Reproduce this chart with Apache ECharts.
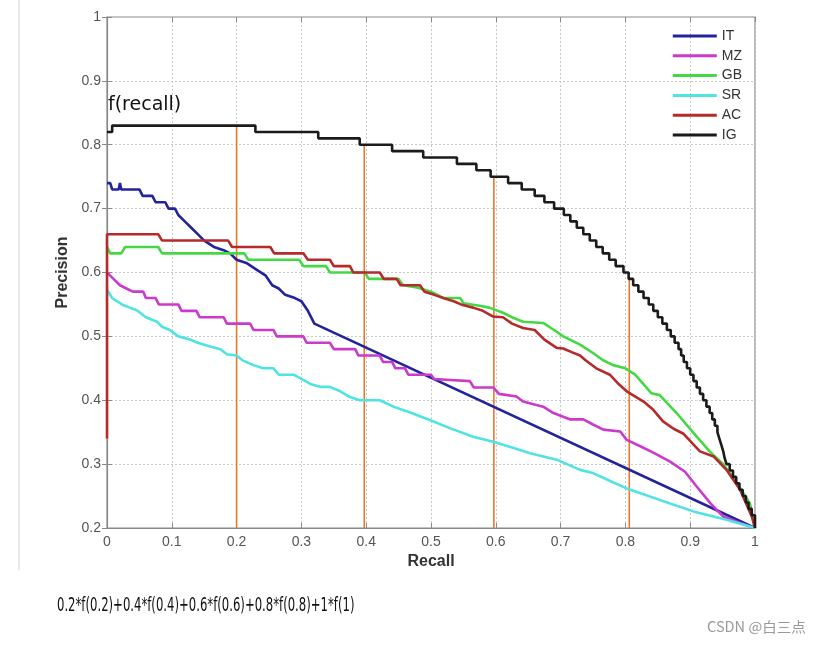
<!DOCTYPE html>
<html><head><meta charset="utf-8">
<script src="https://cdn.jsdelivr.net/npm/echarts@6/dist/echarts.min.js"></script>
<style>html,body{margin:0;padding:0;background:#fff}#c{width:823px;height:645px}</style>
</head><body><div id="c"></div>
<script>
const seriesNames = ['IT','MZ','GB','SR','AC','IG'];
const seriesColors = ['#23239c','#cc3acc','#45d845','#4fe3e3','#b52a2a','#1b1b1b'];

const IT = [[0,0.74],[0.005,0.74],[0.008,0.73],[0.018,0.73],[0.02,0.74],[0.022,0.73],[0.05,0.73],[0.055,0.72],[0.07,0.72],[0.075,0.71],[0.09,0.71],[0.095,0.70],[0.105,0.70],[0.11,0.69],[0.12,0.68],[0.13,0.67],[0.14,0.66],[0.15,0.65],[0.165,0.64],[0.18,0.635],[0.19,0.63],[0.2,0.62],[0.215,0.615],[0.23,0.605],[0.245,0.595],[0.255,0.58],[0.265,0.575],[0.275,0.565],[0.29,0.56],[0.3,0.555],[0.31,0.54],[0.32,0.52],[1,0.2]];
const MZ = [[0,0.60],[0.005,0.595],[0.01,0.59],[0.02,0.58],[0.03,0.575],[0.04,0.57],[0.056,0.57],[0.06,0.56],[0.075,0.56],[0.08,0.55],[0.11,0.55],[0.115,0.54],[0.138,0.54],[0.143,0.53],[0.18,0.53],[0.185,0.52],[0.221,0.52],[0.226,0.51],[0.257,0.51],[0.262,0.50],[0.303,0.50],[0.308,0.49],[0.344,0.49],[0.35,0.48],[0.383,0.48],[0.388,0.47],[0.421,0.47],[0.426,0.46],[0.44,0.46],[0.445,0.45],[0.46,0.45],[0.465,0.44],[0.50,0.44],[0.505,0.433],[0.524,0.432],[0.56,0.43],[0.566,0.42],[0.596,0.42],[0.605,0.41],[0.632,0.406],[0.642,0.398],[0.673,0.39],[0.689,0.38],[0.715,0.37],[0.735,0.37],[0.75,0.362],[0.766,0.354],[0.792,0.351],[0.802,0.338],[0.823,0.328],[0.843,0.318],[0.869,0.304],[0.892,0.288],[0.91,0.265],[0.931,0.239],[0.951,0.218],[0.977,0.208],[1,0.2]];
const GB = [[0,0.64],[0.005,0.63],[0.022,0.63],[0.028,0.64],[0.079,0.64],[0.085,0.63],[0.212,0.63],[0.218,0.62],[0.297,0.62],[0.303,0.61],[0.338,0.61],[0.344,0.60],[0.398,0.60],[0.404,0.59],[0.45,0.59],[0.457,0.58],[0.48,0.576],[0.5,0.57],[0.52,0.56],[0.545,0.56],[0.55,0.552],[0.575,0.548],[0.59,0.545],[0.611,0.537],[0.625,0.53],[0.642,0.523],[0.673,0.521],[0.69,0.51],[0.704,0.50],[0.73,0.487],[0.75,0.474],[0.765,0.463],[0.781,0.455],[0.80,0.45],[0.815,0.44],[0.84,0.411],[0.853,0.408],[0.879,0.38],[0.91,0.343],[0.93,0.32],[0.951,0.30],[0.972,0.27],[0.992,0.239],[1,0.2]];
const SR = [[0,0.573],[0.008,0.56],[0.015,0.555],[0.025,0.549],[0.035,0.545],[0.046,0.541],[0.06,0.53],[0.077,0.523],[0.085,0.515],[0.097,0.51],[0.11,0.50],[0.128,0.495],[0.14,0.49],[0.159,0.484],[0.175,0.48],[0.185,0.472],[0.2,0.47],[0.21,0.462],[0.226,0.455],[0.241,0.45],[0.257,0.45],[0.265,0.44],[0.288,0.44],[0.303,0.432],[0.315,0.425],[0.329,0.421],[0.344,0.421],[0.36,0.414],[0.375,0.405],[0.39,0.40],[0.421,0.40],[0.442,0.39],[0.47,0.38],[0.498,0.369],[0.53,0.356],[0.565,0.343],[0.596,0.335],[0.625,0.326],[0.653,0.317],[0.694,0.307],[0.73,0.291],[0.75,0.286],[0.78,0.272],[0.802,0.262],[0.853,0.244],[0.905,0.226],[0.956,0.213],[1,0.2]];
const AC = [[0,0.34],[0,0.66],[0.079,0.66],[0.085,0.65],[0.187,0.65],[0.193,0.64],[0.252,0.64],[0.258,0.63],[0.303,0.63],[0.31,0.62],[0.344,0.62],[0.35,0.61],[0.375,0.61],[0.38,0.60],[0.421,0.60],[0.427,0.59],[0.447,0.59],[0.453,0.58],[0.483,0.58],[0.49,0.57],[0.505,0.565],[0.519,0.56],[0.535,0.555],[0.549,0.549],[0.565,0.545],[0.58,0.54],[0.596,0.531],[0.611,0.53],[0.625,0.52],[0.642,0.513],[0.66,0.51],[0.675,0.495],[0.694,0.482],[0.704,0.481],[0.718,0.475],[0.73,0.47],[0.738,0.463],[0.755,0.45],[0.776,0.44],[0.79,0.425],[0.802,0.414],[0.828,0.398],[0.843,0.385],[0.858,0.367],[0.875,0.355],[0.889,0.348],[0.915,0.32],[0.936,0.312],[0.956,0.291],[0.977,0.26],[0.995,0.218],[1,0.2]];
const IG = [[0,0.82],[0.008,0.83],[0.229,0.82],[0.326,0.81],[0.39,0.80],[0.44,0.79],[0.488,0.78],[0.54,0.77],[0.57,0.76],[0.592,0.75],[0.619,0.74],[0.64,0.73],[0.66,0.72],[0.675,0.71],[0.69,0.70],[0.705,0.69],[0.715,0.68],[0.725,0.67],[0.735,0.66],[0.745,0.65],[0.755,0.64],[0.765,0.63],[0.775,0.62],[0.785,0.61],[0.797,0.60],[0.805,0.59],[0.812,0.58],[0.82,0.57],[0.828,0.56],[0.836,0.55],[0.843,0.54],[0.85,0.53],[0.857,0.52],[0.864,0.51],[0.87,0.50],[0.876,0.49],[0.882,0.48],[0.886,0.47],[0.89,0.46],[0.895,0.45],[0.9,0.44],[0.905,0.43],[0.91,0.42],[0.915,0.41],[0.92,0.40],[0.925,0.39],[0.93,0.38],[0.934,0.37],[0.938,0.36],[0.942,0.35],[0.945,0.34],[0.948,0.33],[0.951,0.32],[0.953,0.31],[0.956,0.30],[0.961,0.29],[0.966,0.28],[0.971,0.27],[0.976,0.26],[0.981,0.25],[0.986,0.24],[0.99,0.23],[0.995,0.22],[1,0.2]];

const recallMarksX = [0.2, 0.397, 0.597, 0.806];
const recallMarksTop = [0.83, 0.80, 0.75, 0.593];
const annotation = 'f(recall)';
const formula = '0.2*f(0.2)+0.4*f(0.4)+0.6*f(0.6)+0.8*f(0.8)+1*f(1)';
const watermark = 'CSDN @白三点';

const allData = [IT, MZ, GB, SR, AC, IG];
const chart = echarts.init(document.getElementById('c'));
const labelFont = {color:'#555', fontSize:14, fontFamily:'Liberation Sans, Arial, sans-serif'};
const series = [];
recallMarksX.forEach((x,i)=>{
  series.push({type:'line', name:'mark'+i, data:[[x,0.2],[x,recallMarksTop[i]]], symbol:'none', silent:true,
    lineStyle:{color:'#e8772e', width:1.6}, z:1});
});
seriesNames.forEach((n,i)=>{
  series.push({type:'line', name:n, data:allData[i], symbol:'none', step: n==='IG' ? 'end' : false,
    lineStyle:{color:seriesColors[i], width:2.6}, itemStyle:{color:seriesColors[i]}, z:2+i});
});
chart.setOption({
  animation:false,
  backgroundColor:'#fff',
  grid:{left:107, right:68, top:17, bottom:117, show:true, borderColor:'#8a8a8a', borderWidth:1.2},
  legend:{data:seriesNames, orient:'vertical', right:76, top:24, icon:'rect', itemWidth:44, itemHeight:3, itemGap:5.8,
    textStyle:{color:'#333', fontSize:14, fontFamily:'Liberation Sans, Arial, sans-serif'}},
  xAxis:[{type:'value', min:0, max:1, interval:0.1, name:'Recall', nameLocation:'middle', nameGap:25,
    nameTextStyle:{fontWeight:'bold', fontSize:16, color:'#333', fontFamily:'Liberation Sans, Arial, sans-serif'},
    axisLine:{show:true, lineStyle:{color:'#8a8a8a', width:1.2}}, axisTick:{show:true, inside:true, length:5, lineStyle:{color:'#8a8a8a'}},
    axisLabel:Object.assign({margin:7, formatter:v=>String(+v.toFixed(1))}, labelFont),
    splitLine:{show:true, lineStyle:{type:[2,2], color:'#c8c8c8', width:1}}},
    {type:'value', position:'top', min:0, max:1, interval:0.1, axisLine:{show:false}, axisTick:{show:true, inside:true, length:5, lineStyle:{color:'#8a8a8a'}}, axisLabel:{show:false}, splitLine:{show:false}}],
  yAxis:[{type:'value', min:0.2, max:1, interval:0.1, name:'Precision', nameLocation:'middle', nameGap:31, nameRotate:90,
    nameTextStyle:{fontWeight:'bold', fontSize:16, color:'#333', fontFamily:'Liberation Sans, Arial, sans-serif'},
    axisLine:{show:true, lineStyle:{color:'#8a8a8a', width:1.2}}, axisTick:{show:true, inside:true, length:5, lineStyle:{color:'#8a8a8a'}},
    axisLabel:Object.assign({margin:6, formatter:v=>String(+v.toFixed(1))}, labelFont),
    splitLine:{show:true, lineStyle:{type:[2,2], color:'#c8c8c8', width:1}}},
    {type:'value', position:'right', min:0.2, max:1, interval:0.1, axisLine:{show:false}, axisTick:{show:true, inside:true, length:5, lineStyle:{color:'#8a8a8a'}}, axisLabel:{show:false}, splitLine:{show:false}}],
  series: series,
  graphic:[
    {type:'line', shape:{x1:19,y1:0,x2:19,y2:570}, style:{stroke:'#e8e8e8', lineWidth:2}, silent:true},
    {type:'text', left:108, top:96, style:{text:annotation, fontSize:19, fill:'#111', fontFamily:'DejaVu Sans'}, z:100},
    {type:'text', x:57, y:596, scaleX:0.583, style:{text:formula, fontSize:20, fill:'#111', fontFamily:'DejaVu Sans'}, z:100},
    {type:'text', x:707, y:620, scaleX:1.04, style:{text:watermark, fontSize:14, fill:'#999', fontFamily:'Noto Sans CJK SC'}, z:100}
  ]
});
</script></body></html>
